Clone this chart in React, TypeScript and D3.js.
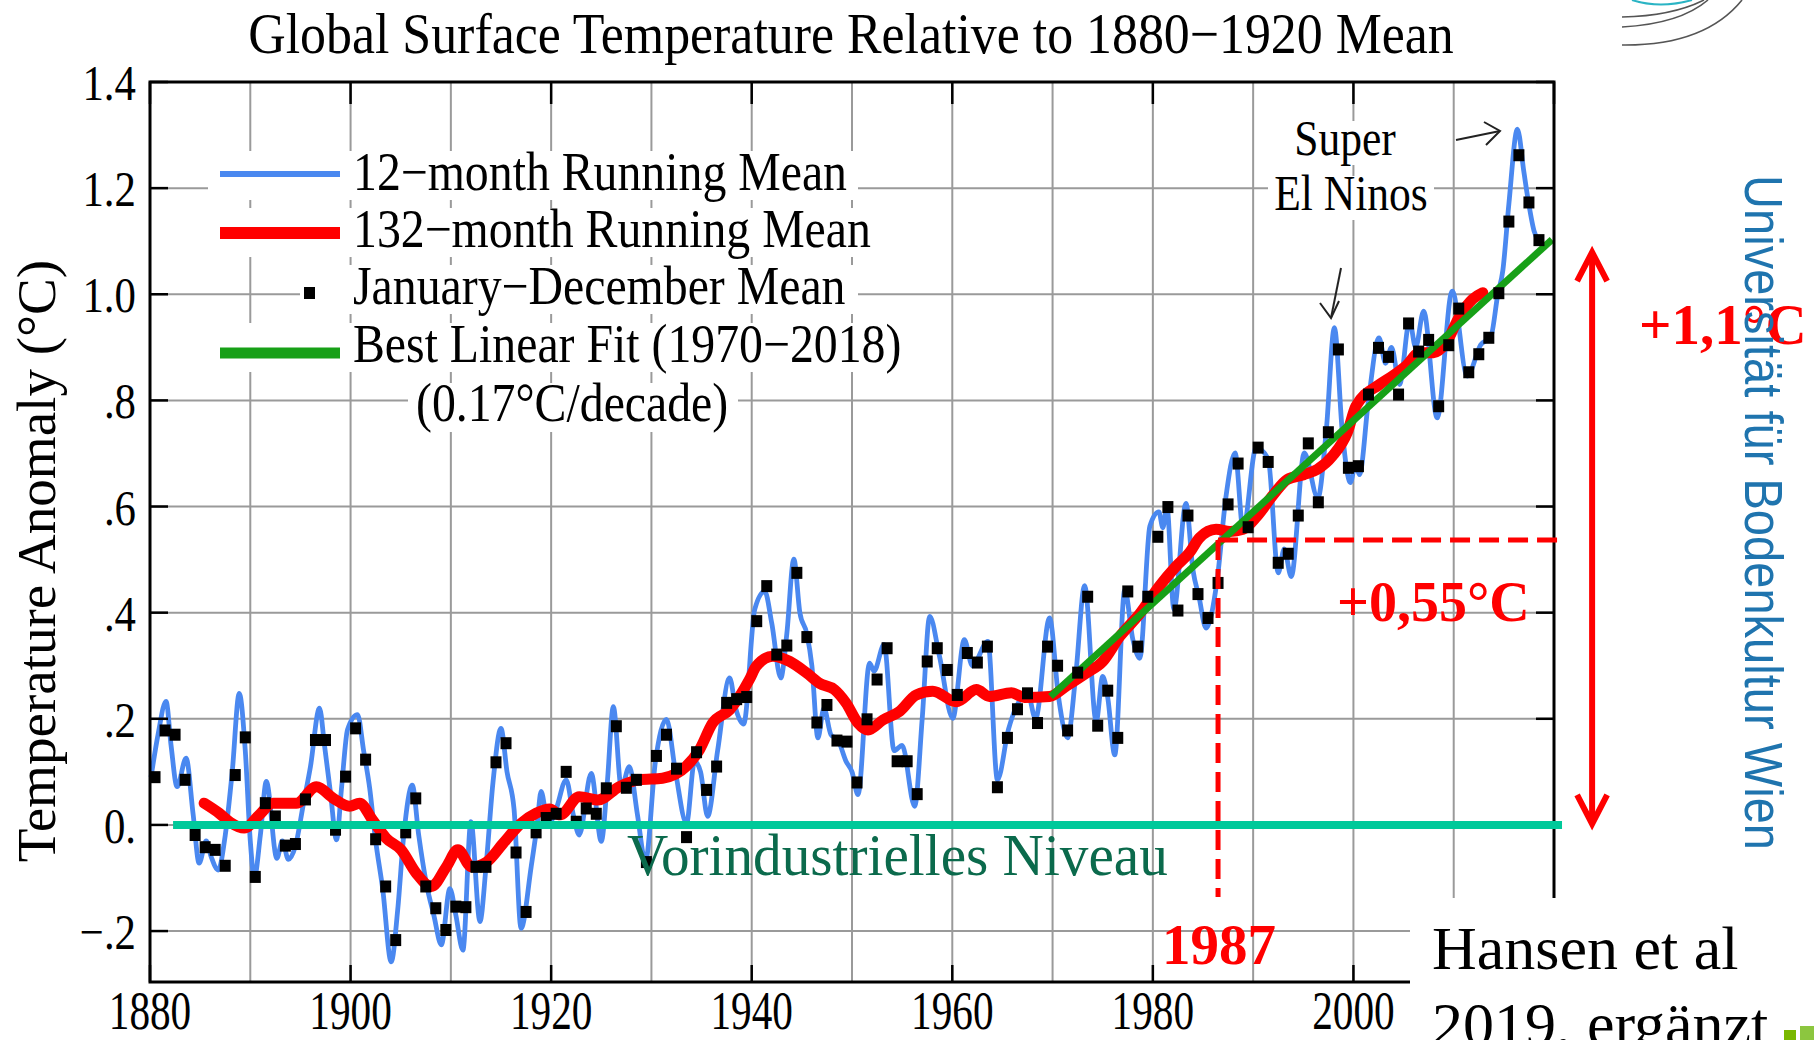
import React from 'react';
import * as d3 from 'd3';

const W = 1814;
const H = 1040;
const SERIF = '"Liberation Serif", "Times New Roman", serif';
const SANS = '"Liberation Sans", Arial, sans-serif';

// January–December annual means, 1880..2018 (°C relative to 1880–1920)
const annualStart = 1880;
const annualValues = [
  0.090, 0.178, 0.170, 0.085, -0.019, -0.042, -0.047, -0.077, 0.094, 0.165,
  -0.098, 0.041, 0.016, -0.039, -0.036, 0.048, 0.160, 0.160, -0.009, 0.091,
  0.182, 0.123, -0.027, -0.116, -0.217, -0.014, 0.050, -0.116, -0.157, -0.198,
  -0.154, -0.155, -0.079, -0.079, 0.118, 0.154, -0.052, -0.164, -0.014, 0.013,
  0.021, 0.100, 0.006, 0.031, 0.021, 0.069, 0.186, 0.070, 0.085, -0.070,
  0.130, 0.170, 0.106, -0.023, 0.137, 0.066, 0.110, 0.230, 0.237, 0.241,
  0.384, 0.450, 0.321, 0.338, 0.475, 0.354, 0.193, 0.226, 0.159, 0.157,
  0.080, 0.199, 0.274, 0.333, 0.120, 0.120, 0.058, 0.308, 0.333, 0.292,
  0.245, 0.324, 0.306, 0.336, 0.071, 0.164, 0.218, 0.248, 0.192, 0.336,
  0.300, 0.178, 0.287, 0.430, 0.187, 0.253, 0.164, 0.440, 0.336, 0.430,
  0.543, 0.599, 0.404, 0.583, 0.435, 0.390, 0.456, 0.604, 0.681, 0.561,
  0.711, 0.684, 0.494, 0.511, 0.583, 0.719, 0.608, 0.740, 0.896, 0.673,
  0.676, 0.811, 0.899, 0.882, 0.811, 0.945, 0.892, 0.914, 0.789, 0.904,
  0.973, 0.853, 0.887, 0.918, 1.002, 1.137, 1.262, 1.173, 1.102,
];

// 12-month running mean (read at its turning points)
const blueYears = [
  1880.1, 1880.8, 1881.6, 1882.1, 1882.7, 1883.6, 1884.3, 1884.9, 1885.6, 1886.1,
  1886.8, 1887.5, 1888.2, 1888.9, 1889.5, 1890.0, 1890.4, 1891.0, 1891.6, 1892.65,
  1893.2, 1893.8, 1894.5, 1895.3, 1896.0, 1896.9, 1897.4, 1898.0, 1898.6, 1899.1,
  1899.7, 1900.7, 1901.3, 1901.9, 1902.5, 1903.2, 1904.05, 1904.7, 1905.3, 1906.15,
  1906.8, 1907.55, 1908.3, 1909.05, 1909.9, 1910.5, 1911.2, 1912.0, 1912.9, 1913.5,
  1914.2, 1915.0, 1915.6, 1916.3, 1917.0, 1918.0, 1918.6, 1919.0, 1919.7, 1920.5,
  1921.5, 1922.2, 1922.8, 1924.0, 1925.0, 1925.6, 1926.2, 1927.0, 1927.8, 1928.6,
  1929.4, 1930.4, 1931.5, 1932.4, 1933.5, 1934.3, 1934.9, 1935.6, 1936.6, 1937.8,
  1938.4, 1939.2, 1940.3, 1941.3, 1942.0, 1942.9, 1943.5, 1944.2, 1944.8, 1945.5,
  1946.0, 1946.6, 1947.2, 1947.9, 1948.6, 1949.4, 1950.0, 1950.6, 1951.75, 1952.2,
  1953.2, 1954.2, 1955.0, 1956.25, 1957.0, 1957.75, 1958.7, 1960.05, 1961.2, 1962.0,
  1963.55, 1964.5, 1965.6, 1966.9, 1967.5, 1968.3, 1969.7, 1970.6, 1971.5, 1972.3,
  1973.2, 1974.35, 1975.0, 1975.5, 1976.2, 1977.2, 1978.0, 1978.7, 1979.7, 1980.6,
  1981.0, 1981.4, 1982.1, 1983.3, 1984.0, 1984.6, 1985.3, 1986.4, 1987.3, 1988.2,
  1989.0, 1990.3, 1991.5, 1992.5, 1993.1, 1993.8, 1995.1, 1996.45, 1997.3, 1998.1,
  1998.9, 1999.7, 2000.2, 2000.6, 2001.5, 2002.55, 2003.2, 2003.8, 2004.6, 2005.6,
  2006.2, 2007.0, 2008.35, 2009.85, 2011.35, 2012.7, 2013.7, 2014.4, 2014.9, 2015.5,
  2016.35, 2017.0, 2017.4, 2018.0, 2018.55,
];
const blueValues = [
  0.09, 0.17, 0.233, 0.15, 0.072, 0.126, 0.02, -0.072, -0.03, -0.06,
  -0.085, -0.02, 0.10, 0.248, 0.14, -0.03, -0.10, -0.02, 0.082, -0.063,
  -0.03, -0.065, -0.04, 0.04, 0.11, 0.22, 0.15, 0.06, -0.028, 0.07,
  0.18, 0.208, 0.14, 0.07, -0.03, -0.12, -0.258, -0.16, -0.02, 0.075,
  -0.02, -0.11, -0.17, -0.226, -0.12, -0.17, -0.236, 0.006, -0.182, -0.08,
  0.08, 0.182, 0.10, 0.03, -0.195, -0.08, 0.0, 0.063, 0.0, 0.03,
  0.085, 0.02, -0.019, 0.097, -0.031, 0.08, 0.223, 0.07, 0.11, 0.02,
  -0.069, 0.12, 0.199, 0.10, 0.003, 0.12, 0.10, 0.016, 0.14, 0.277,
  0.22, 0.19, 0.406, 0.44, 0.38, 0.277, 0.36, 0.501, 0.40, 0.36,
  0.30, 0.164, 0.22, 0.17, 0.16, 0.12, 0.10, 0.057, 0.305, 0.29,
  0.34, 0.14, 0.15, 0.035, 0.20, 0.393, 0.32, 0.201, 0.349, 0.30,
  0.346, 0.085, 0.18, 0.24, 0.25, 0.20, 0.39, 0.24, 0.164, 0.28,
  0.451, 0.195, 0.28, 0.24, 0.132, 0.443, 0.35, 0.314, 0.563, 0.59,
  0.56, 0.60, 0.406, 0.606, 0.48, 0.43, 0.371, 0.46, 0.62, 0.701,
  0.557, 0.711, 0.69, 0.475, 0.52, 0.468, 0.701, 0.616, 0.745, 0.937,
  0.739, 0.645, 0.68, 0.66, 0.80, 0.918, 0.87, 0.90, 0.83, 0.95,
  0.90, 0.968, 0.767, 1.006, 0.846, 0.905, 0.92, 1.00, 1.045, 1.17,
  1.311, 1.23, 1.18, 1.12, 1.097,
];

// 132-month running mean
const redYears = [
  1885.4, 1886.9, 1888.0, 1889.4, 1890.9, 1892.25, 1894.6, 1896.6, 1898.3, 1899.9,
  1900.9, 1902.2, 1903.55, 1905.05, 1906.55, 1908.05, 1909.55, 1910.7, 1912.05, 1913.55,
  1915.2, 1917.0, 1918.5, 1919.85, 1920.9, 1922.8, 1924.65, 1926.8, 1928.8, 1931.1,
  1933.45, 1934.8, 1936.1, 1937.8, 1939.8, 1940.45, 1942.1, 1943.8, 1945.5, 1946.75,
  1948.25, 1949.4, 1950.6, 1951.6, 1953.1, 1954.75, 1956.4, 1958.05, 1960.4, 1962.4,
  1963.7, 1965.9, 1967.2, 1969.7, 1971.4, 1973.35, 1975.0, 1976.7, 1978.7, 1980.65,
  1982.3, 1983.65, 1984.65, 1986.3, 1987.7, 1989.0, 1990.4, 1992.05, 1993.4, 1995.05,
  1996.4, 1997.9, 1999.4, 2000.25, 2002.6, 2003.9, 2005.25, 2006.6, 2008.0, 2009.25,
  2010.6, 2011.9, 2012.9,
];
const redValues = [
  0.041, 0.022, 0.005, -0.006, 0.019, 0.041, 0.041, 0.072, 0.050, 0.035,
  0.041, 0.009, -0.025, -0.047, -0.091, -0.116, -0.079, -0.047, -0.079, -0.070,
  -0.035, 0.003, 0.022, 0.030, 0.019, 0.053, 0.047, 0.072, 0.085, 0.088,
  0.110, 0.142, 0.192, 0.217, 0.275, 0.299, 0.318, 0.308, 0.286, 0.267,
  0.255, 0.230, 0.192, 0.179, 0.198, 0.214, 0.245, 0.252, 0.232, 0.255,
  0.242, 0.249, 0.240, 0.242, 0.262, 0.286, 0.308, 0.355, 0.398, 0.450,
  0.487, 0.513, 0.541, 0.557, 0.553, 0.557, 0.582, 0.623, 0.651, 0.660,
  0.670, 0.695, 0.740, 0.789, 0.830, 0.846, 0.865, 0.890, 0.890, 0.909,
  0.959, 0.991, 1.003,
];

// Best linear fit 1970–2018
const fitYears = [1969.8, 2019.8];
const fitValues = [0.242, 1.103];

// Axis ticks
const xTickYears = [1880, 1900, 1920, 1940, 1960, 1980, 2000, 2020];
const xTickLabels = ['1880', '1900', '1920', '1940', '1960', '1980', '2000', '2020'];
const gridYears = [1890, 1900, 1910, 1920, 1930, 1940, 1950, 1960, 1970, 1980, 1990, 2000, 2010];
const yTickValues = [-0.2, 0, 0.2, 0.4, 0.6, 0.8, 1.0, 1.2, 1.4];
const yTickLabels = ['\u2212.2', '0.', '.2', '.4', '.6', '.8', '1.0', '1.2', '1.4'];

// Annotations
const baselineRange = [1882.3, 2020.8];
const refYear = 1986.5;
const refValue = 0.537;
const refEndValue = -0.136;
const arrowValues = [1.083, -0.002];
const arrowYear = 2023.8;

const legendLabels = [
  '12\u2212month Running Mean',
  '132\u2212month Running Mean',
  'January\u2212December Mean',
  'Best Linear Fit (1970\u22122018)',
  '(0.17\u00b0C/decade)',
];

const BLUE = '#4a88f0';
const RED = '#ff0000';
const GREEN = '#17a017';
const TEAL = '#00c99a';
const GRID = '#9a9a9a';

type TProps = {
  x: number; y: number; fs: number; sx?: number; anchor?: string; fill?: string;
  weight?: string | number; family?: string; rotate?: number; children: React.ReactNode;
};
const T = ({ x, y, fs, sx = 1, anchor = 'start', fill = '#000', weight = 'normal', family = SERIF, rotate = 0, children }: TProps) => (
  <text
    transform={`translate(${x},${y}) rotate(${rotate}) scale(${sx},1)`}
    fontSize={fs}
    textAnchor={anchor}
    fill={fill}
    fontWeight={weight}
    fontFamily={family}
  >
    {children}
  </text>
);

export default function App() {
  const x = d3.scaleLinear().domain([1880, 2020]).range([150, 1554]);
  const y = d3.scaleLinear().domain([-0.296, 1.4]).range([982, 82]);
  const [x0, x1] = x.range();
  const [yb, yt] = y.range();

  const line = d3
    .line<[number, number]>()
    .x((d) => x(d[0]))
    .y((d) => y(d[1]))
    .curve(d3.curveMonotoneX);

  const bluePath = line(blueYears.map((t, i) => [t, blueValues[i]]) as [number, number][]) || '';
  const redPath = line(redYears.map((t, i) => [t, redValues[i]]) as [number, number][]) || '';
  const fitPath =
    d3.line<[number, number]>().x((d) => x(d[0])).y((d) => y(d[1]))(
      fitYears.map((t, i) => [t, fitValues[i]]) as [number, number][]
    ) || '';

  const squares = annualValues.map((v, i) => ({ t: annualStart + i + 0.5, v }));

  const ax = x(arrowYear);
  const aTop = y(arrowValues[0]);
  const aBot = y(arrowValues[1]);

  const legendBase = [190, 247, 304, 362, 421];

  return (
    <svg
      width={W}
      height={H}
      viewBox={`0 0 ${W} ${H}`}
      style={{ position: 'absolute', left: 0, top: 0, display: 'block', background: '#fff' }}
    >
      <rect x={0} y={0} width={W} height={H} fill="#fff" />

      {/* logo arcs top right */}
      <g fill="none" strokeWidth={1.6}>
        <path d="M1632,0 Q1660,9 1692,0" stroke="#2ab4c4" strokeWidth={2} />
        <path d="M1622,17 Q1672,16 1704,0" stroke="#555" />
        <path d="M1622,27 Q1680,24 1708,0" stroke="#555" />
        <path d="M1622,45 Q1705,46 1742,0" stroke="#555" />
      </g>

      {/* title */}
      <T x={851} y={53} fs={57} sx={0.91} anchor="middle">
        Global Surface Temperature Relative to 1880{'\u2212'}1920 Mean
      </T>

      {/* grid */}
      <g stroke={GRID} strokeWidth={2}>
        {gridYears.map((g) => (
          <line key={'gx' + g} x1={x(g)} x2={x(g)} y1={yt} y2={yb} />
        ))}
        {yTickValues.filter((v) => v < 1.39).map((v) => (
          <line key={'gy' + v} x1={x0} x2={x1} y1={y(v)} y2={y(v)} />
        ))}
      </g>

      {/* legend backgrounds */}
      <g fill="#fff">
        <rect x={208} y={151} width={650} height={49} />
        <rect x={208} y={208} width={672} height={49} />
        <rect x={300} y={265} width={558} height={49} />
        <rect x={208} y={323} width={702} height={49} />
        <rect x={408} y={383} width={330} height={49} />
        <rect x={1290} y={121} width={112} height={44} />
        <rect x={1268} y={176} width={166} height={44} />
      </g>

      {/* legend */}
      <line x1={220} x2={340} y1={174} y2={174} stroke={BLUE} strokeWidth={6} />
      <line x1={220} x2={340} y1={233} y2={233} stroke={RED} strokeWidth={12} />
      <rect x={304} y={287} width={11} height={12} fill="#000" />
      <line x1={220} x2={340} y1={353} y2={353} stroke={GREEN} strokeWidth={11} />
      {legendLabels.map((s, i) => (
        <T key={s} x={i === 4 ? 416 : 353} y={legendBase[i]} fs={54} sx={0.885}>
          {s}
        </T>
      ))}

      {/* Super El Ninos */}
      <T x={1345} y={155} fs={50} sx={0.87} anchor="middle">Super</T>
      <T x={1351} y={210} fs={50} sx={0.87} anchor="middle">El Ninos</T>
      <g stroke="#222" strokeWidth={2} fill="none">
        <line x1={1341} y1={268} x2={1331} y2={318} />
        <polyline points="1320,303 1331,318 1339,301" />
        <line x1={1456} y1={140} x2={1500} y2={131} />
        <polyline points="1484,122 1500,131 1486,145" />
      </g>

      {/* data */}
      <path d={bluePath} fill="none" stroke={BLUE} strokeWidth={4.8} strokeLinejoin="round" />
      <path d={redPath} fill="none" stroke={RED} strokeWidth={11} strokeLinejoin="round" strokeLinecap="round" />
      <path d={fitPath} fill="none" stroke={GREEN} strokeWidth={7} />
      <g fill="#000">
        {squares.map((d) => (
          <rect key={d.t} x={x(d.t) - 5.5} y={y(d.v) - 6} width={11} height={12} />
        ))}
      </g>

      {/* axes frame and ticks */}
      <g stroke="#000" strokeWidth={2.5}>
        {yTickValues.map((v) => (
          <g key={'t' + v}>
            <line x1={x0} x2={x0 + 18} y1={y(v)} y2={y(v)} />
            <line x1={x1 - 18} x2={x1} y1={y(v)} y2={y(v)} />
          </g>
        ))}
        {xTickYears.map((t) => (
          <g key={'tx' + t}>
            <line x1={x(t)} x2={x(t)} y1={yt} y2={yt + 22} />
            <line x1={x(t)} x2={x(t)} y1={yb} y2={yb - 17} />
          </g>
        ))}
      </g>
      <rect x={x0} y={yt} width={x1 - x0} height={yb - yt} fill="none" stroke="#000" strokeWidth={3} />

      {/* tick labels */}
      {yTickValues.map((v, i) => (
        <T key={'yl' + v} x={136} y={y(v) + 18} fs={51} sx={0.84} anchor="end">
          {yTickLabels[i]}
        </T>
      ))}
      {xTickYears.map((t, i) => (
        <T key={'xl' + t} x={x(t)} y={1029} fs={55} sx={0.75} anchor="middle">
          {xTickLabels[i]}
        </T>
      ))}
      <T x={55} y={561} fs={54} sx={1.02} anchor="middle" rotate={-90}>
        Temperature Anomaly ({'\u00b0'}C)
      </T>

      {/* pre-industrial level */}
      <line
        x1={x(baselineRange[0])}
        x2={x(baselineRange[1])}
        y1={y(0)}
        y2={y(0)}
        stroke={TEAL}
        strokeWidth={8}
      />
      <T x={627} y={875} fs={59} sx={0.97} fill="#0b6a4c">Vorindustrielles Niveau</T>

      {/* 1987 reference */}
      <g stroke={RED} strokeWidth={5} strokeDasharray="20 9" fill="none">
        <line x1={x(refYear)} x2={x(baselineRange[1])} y1={y(refValue)} y2={y(refValue)} />
        <line x1={x(refYear)} x2={x(refYear)} y1={y(refValue)} y2={y(refEndValue)} />
      </g>
      <T x={1219} y={964} fs={57} weight="bold" fill={RED} anchor="middle">1987</T>
      <T x={1337} y={621} fs={56} weight="bold" fill={RED}>+0,55{'\u00b0'}C</T>

      {/* double arrow */}
      <g stroke={RED} strokeWidth={6} fill="none" strokeLinejoin="miter">
        <line x1={ax} x2={ax} y1={aTop + 3} y2={aBot - 3} />
        <polyline points={`${ax - 15},${aTop + 31} ${ax},${aTop + 2} ${ax + 15},${aTop + 31}`} />
        <polyline points={`${ax - 15},${aBot - 31} ${ax},${aBot - 2} ${ax + 15},${aBot - 31}`} />
      </g>
      <T x={1639} y={344} fs={57} weight="bold" fill={RED}>+1,1{'\u00b0'}C</T>

      {/* university name */}
      <text
        transform="translate(1745,175) rotate(90)"
        fontSize={53}
        fontFamily={SANS}
        fill="#1f74ae"
        textLength={675}
        lengthAdjust="spacingAndGlyphs"
      >
        Universität für Bodenkultur Wien
      </text>

      {/* source box */}
      <rect x={1410} y={898} width={W - 1410} height={H - 898} fill="#fff" />
      <T x={1432} y={969} fs={62}>Hansen et al</T>
      <T x={1432} y={1045} fs={62}>2019, ergänzt</T>
      <rect x={1784} y={1030} width={12} height={10} fill="#7ab800" />
      <rect x={1800} y={1026} width={14} height={14} fill="#8cc63f" />
    </svg>
  );
}
